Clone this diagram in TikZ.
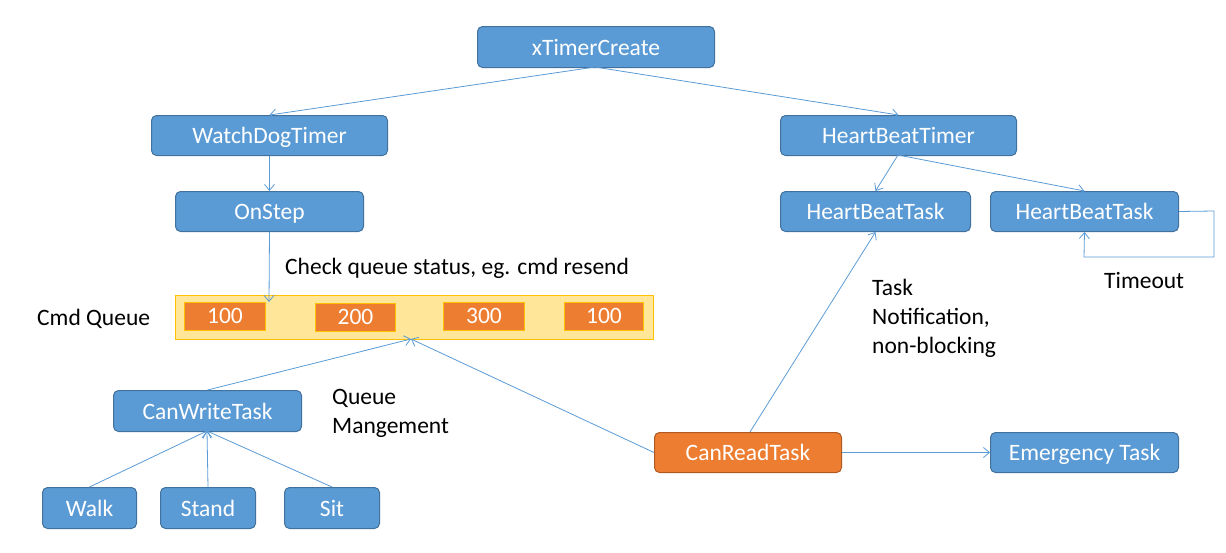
\documentclass[tikz,border=0pt]{standalone}
\usepackage{fontspec}
\setmainfont{Carlito}
\usetikzlibrary{arrows.meta}
\definecolor{bluefill}{HTML}{5B9BD5}
\definecolor{blueedge}{HTML}{41719C}
\definecolor{orangefill}{HTML}{ED7D31}
\definecolor{orangeedge}{HTML}{AE5A21}
\definecolor{qfill}{HTML}{FFE699}
\definecolor{qedge}{HTML}{FFC000}
\definecolor{lineblue}{HTML}{5B9BD5}
\tikzset{
  x=1pt,y=-1pt,
  box/.style={draw=blueedge,fill=bluefill,rounded corners=5pt,line width=1pt,text=white,font=\fontsize{23.5}{29}\selectfont,inner sep=0pt,text height=18pt,text depth=2pt,anchor=north west},
  obox/.style={box,draw=orangeedge,fill=orangefill},
  cell/.style={draw=qedge,fill=orangefill,line width=1pt,text=white,font=\fontsize{23.5}{29}\selectfont,inner sep=0pt,text height=17pt,text depth=3pt,anchor=north west},
  lbl/.style={font=\fontsize{23.5}{29}\selectfont,text=black,inner sep=0pt},
  conn/.style={draw=lineblue,line width=0.8pt,-{Straight Barb[length=6pt,width=10pt,line width=0.8pt]}}
}
\begin{document}
\begin{tikzpicture}
\useasboundingbox (0,0) rectangle (1226,552);
% boxes
\node[box,minimum width=237pt,minimum height=41pt] (xtc) at (477,26) {xTimerCreate};
\node[box,minimum width=236pt,minimum height=40pt] (wdt) at (151,115) {WatchDogTimer};
\node[box,minimum width=236pt,minimum height=40pt] (hbt) at (780,115) {HeartBeatTimer};
\node[box,minimum width=188pt,minimum height=40pt] (onstep) at (175,191) {OnStep};
\node[box,minimum width=190pt,minimum height=40pt] (hbta) at (780,191) {HeartBeatTask};
\node[box,minimum width=188pt,minimum height=40pt] (hbtb) at (990,191) {HeartBeatTask};
% queue
\node[draw=qedge,fill=qfill,line width=1pt,minimum width=478pt,minimum height=44pt,inner sep=0pt,anchor=north west] (queue) at (175,295) {};
\node[cell,minimum width=81pt,minimum height=28pt] (c1) at (184,302) {100};
\node[cell,minimum width=80pt,minimum height=28pt] (c2) at (315,303) {200};
\node[cell,minimum width=81pt,minimum height=28pt] (c3) at (443,302) {300};
\node[cell,minimum width=79pt,minimum height=28pt] (c4) at (564,302) {100};
\node[lbl,anchor=west] (cmdq) at (37,319) {Cmd Queue};
\node[lbl,anchor=west] (check) at (285,268) {Check queue status, eg. cmd resend};
% bottom left
\node[box,minimum width=188pt,minimum height=41pt] (cwt) at (113,390) {CanWriteTask};
\node[box,minimum width=94pt,minimum height=41pt] (walk) at (42,487) {Walk};
\node[box,minimum width=95pt,minimum height=41pt] (stand) at (160,487) {Stand};
\node[box,minimum width=95pt,minimum height=41pt] (sit) at (284,487) {Sit};
\node[lbl,anchor=north west,align=left] (qm) at (332,389) {Queue\\Mangement};
% bottom right
\node[obox,minimum width=187pt,minimum height=40pt] (crt) at (654,432) {CanReadTask};
\node[box,minimum width=188pt,minimum height=40pt] (emt) at (990,432) {Emergency Task};
\node[lbl,anchor=north west,align=left] (tn) at (872,279) {Task\\Notification,\\non-blocking};
\node[lbl,anchor=west] (to) at (1104,280) {Timeout};
% coordinates
\coordinate (xtcb) at (595,67);
\coordinate (qa) at (269,302);
\coordinate (qb) at (411,339);
\coordinate (hbtbot) at (898,155);
\coordinate (cwtb) at (207,431);
\coordinate (crtt) at (750,432);
\coordinate (l1) at (1214,211);
\coordinate (l2) at (1214,257);
\coordinate (l3) at (1084,257);
% connectors
\draw[conn] (xtcb) -- (wdt.north);
\draw[conn] (xtcb) -- (hbt.north);
\draw[conn] (wdt.south) -- (onstep.north);
\draw[conn] (hbtbot) -- (hbta.north);
\draw[conn] (hbtbot) -- (hbtb.north);
\draw[conn] (onstep.south) -- (qa);
\draw[conn] (cwt.north) -- (qb);
\draw[conn] (crt.west) -- (qb);
\draw[conn] (crtt) -- (hbta.south);
\draw[conn] (crt.east) -- (emt.west);
\draw[conn] (walk.north) -- (cwtb);
\draw[conn] (stand.north) -- (cwtb);
\draw[conn] (sit.north) -- (cwtb);
\draw[conn] (hbtb.east) -- (l1) -- (l2) -- (l3) -- (hbtb.south);
\end{tikzpicture}
\end{document}
